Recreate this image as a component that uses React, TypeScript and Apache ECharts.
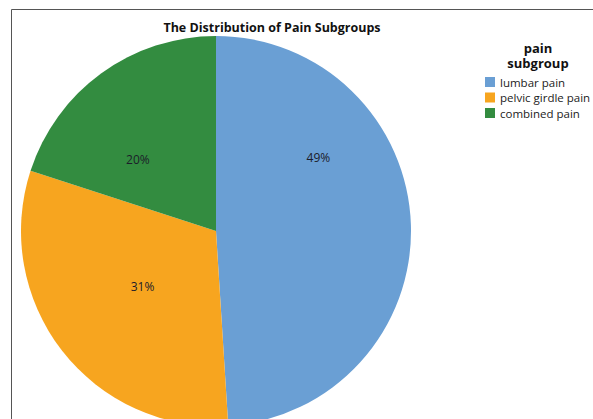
import React, { useEffect, useRef } from "react";
import * as echarts from "echarts";

const categories = ["lumbar pain", "pelvic girdle pain", "combined pain"];
const percentages = [49, 31, 20];
const colors = ["#6a9fd4", "#f7a51f", "#338c40"];
const labelOffsets: [number, number][] = [[2, -70], [6, -6], [-19, 10]];
const legendTitleLines = ["pain", "subgroup"];

export default function App() {
  const ref = useRef<HTMLDivElement>(null);
  useEffect(() => {
    if (!ref.current) return;
    const chart = echarts.init(ref.current, undefined, { renderer: "svg" });
    chart.setOption({
      animation: false,
      backgroundColor: "#ffffff",
      title: {
        text: "The Distribution of Pain Subgroups",
        left: 267,
        textAlign: "center",
        top: 16,
        textStyle: { fontFamily: "Open Sans", fontWeight: "bold", fontSize: 12.5, color: "#111" },
      },
      legend: {
        orient: "vertical",
        left: 485,
        top: 76,
        padding: 0,
        itemWidth: 10,
        itemHeight: 10,
        itemGap: 3.5,
        icon: "rect",
        data: categories,
        textStyle: { fontFamily: "Open Sans", fontSize: 11.5, color: "#222" },
      },
      graphic: [
        {
          type: "rect",
          shape: { x: 11.5, y: 9.5, width: 600, height: 420 },
          style: { fill: "none", stroke: "#555", lineWidth: 1 },
          silent: true,
        },
        ...legendTitleLines.map((t, i) => ({
          type: "text",
          x: 538,
          y: 48 + i * 15,
          style: {
            text: t,
            textAlign: "center",
            textVerticalAlign: "middle",
            fontFamily: "Open Sans",
            fontWeight: "bold",
            fontSize: 13,
            lineHeight: 13,
            fill: "#111",
          },
        })),
      ],
      series: [
        {
          type: "pie",
          center: [216, 231],
          radius: 195,
          startAngle: 90,
          clockwise: true,
          avoidLabelOverlap: false,
          labelLine: { show: false },
          itemStyle: { borderWidth: 0 },
          emphasis: { disabled: true },
          label: {
            show: true,
            position: "inside",
            formatter: "{c}%",
            fontFamily: "Open Sans",
            fontSize: 12,
            color: "#1c1c2a",
          },
          data: categories.map((name, i) => ({
            name,
            value: percentages[i],
            itemStyle: { color: colors[i] },
            label: { offset: labelOffsets[i] },
          })),
        },
      ],
    });
    return () => chart.dispose();
  }, []);
  return (
    <div
      ref={ref}
      style={{ position: "fixed", left: 0, top: 0, width: 593, height: 419 }}
    />
  );
}
